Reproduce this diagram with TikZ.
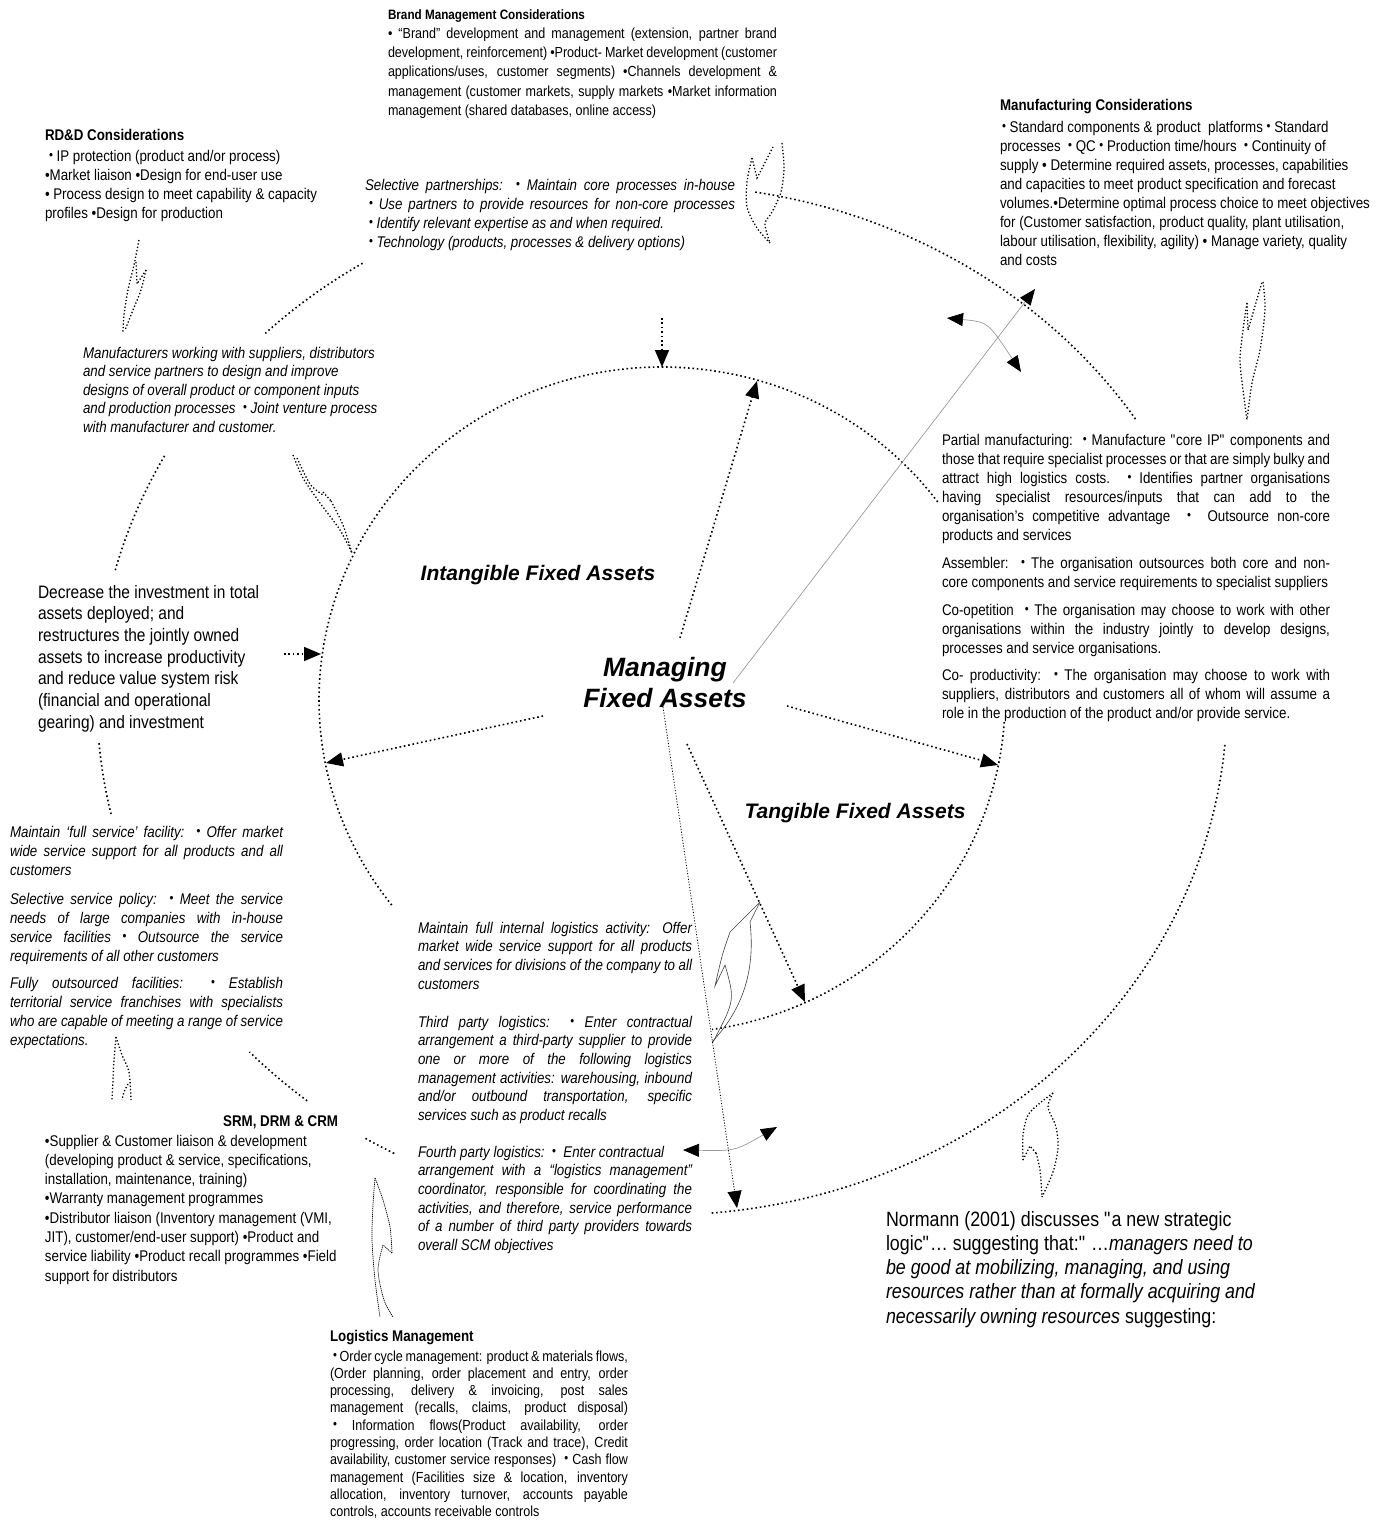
\documentclass[tikz,border=0pt]{standalone}
\usepackage{fontspec}
\setmainfont{Liberation Sans}[FakeStretch=0.86]
\newfontfamily\headfont{Liberation Sans}
\usetikzlibrary{arrows.meta}
% one line of a block: justified, flush left, flush right
\newcommand\jline[1]{\hbox to\hsize{#1}}
\newcommand\lline[1]{\hbox to\hsize{#1\hfil}}
\newcommand\rline[1]{\hbox to\hsize{\hfil#1}}
% small raised bullet
\newcommand\bu{{\upshape\raisebox{2pt}{\fontsize{13}{13}\selectfont •}}}
\newcommand\txtsize[1]{\fontsize{15.5}{#1}\selectfont}
\newcommand\qq{\textquotedbl}

\begin{document}
\begin{tikzpicture}[x=1pt,y=-1pt,
  every node/.style={inner sep=0pt, outer sep=0pt},
  txt/.style={anchor=base west},
  dotl/.style={line width=1.6pt, dash pattern=on 1.6pt off 2.8pt},
  curl/.style={line width=1.3pt, dash pattern=on 1.3pt off 2.1pt},
  finecurl/.style={line width=0.7pt, dash pattern=on 1.2pt off 0.8pt},
  fine/.style={line width=0.8pt, dash pattern=on 1.1pt off 1.7pt},
  thinl/.style={line width=0.6pt, draw=black!75},
  bigarrow/.style={-{Triangle[length=17pt,width=14pt]}},
  greydouble/.style={draw=black!40, line width=0.7pt,
    {Triangle[length=16pt,width=13pt,color=black]}-{Triangle[length=16pt,width=13pt,color=black]}},
  greyarrow/.style={draw=black!40, line width=0.7pt,
    -{Triangle[length=16pt,width=13pt,color=black]}},
  big/.style={font=\headfont\bfseries\itshape\fontsize{26.5}{31}\selectfont, anchor=base},
  mid/.style={font=\headfont\bfseries\itshape\fontsize{21}{25}\selectfont, anchor=base},
]
\useasboundingbox (0,0) rectangle (1384,1532);

% ---------- dotted rings ----------
% outer ring, visible pieces
\draw[dotl] (662,700) ++({565*cos(-80.5)},{515*sin(-80.5)}) arc[start angle=-80.5, end angle=-33, x radius=565, y radius=515];
\draw[dotl] (662,700) ++({565*cos(5)},{515*sin(5)}) arc[start angle=5, end angle=85, x radius=565, y radius=515];
\draw[dotl] (662,700) ++({565*cos(-122)},{515*sin(-122)}) arc[start angle=-122, end angle=-134.6, x radius=565, y radius=515];
\draw[dotl] (662,700) ++({565*cos(-151.7)},{515*sin(-151.7)}) arc[start angle=-151.7, end angle=-165.6, x radius=565, y radius=515];
\draw[dotl] (662,700) ++({565*cos(167.2)},{515*sin(167.2)}) arc[start angle=167.2, end angle=175.3, x radius=565, y radius=515];
\draw[dotl] (662,700) ++({565*cos(128.9)},{515*sin(128.9)}) arc[start angle=128.9, end angle=136.9, x radius=565, y radius=515];
\draw[dotl] (662,700) ++({565*cos(118.3)},{515*sin(118.3)}) arc[start angle=118.3, end angle=121.9, x radius=565, y radius=515];
% inner ring
\draw[dotl] (662,700) ++({343*cos(-36.5)},{333*sin(-36.5)}) arc[start angle=-36.5, end angle=-218, x radius=343, y radius=333];
\draw[dotl] (662,700) ++({343*cos(3.8)},{333*sin(3.8)}) arc[start angle=3.8, end angle=81.6, x radius=343, y radius=333];

% ---------- centre titles ----------
\node[big] (mfa1) at (665,676) {Managing};
\node[big] (mfa2) at (665,707) {Fixed Assets};
\node[mid] (ifa) at (538,580) {Intangible Fixed Assets};
\node[mid] (tfa) at (855,818) {Tangible Fixed Assets};

% ---------- text blocks ----------
\node[txt] (brand) at (388,19) {\vtop{\hsize=389pt\fontsize{14.6}{19.3}\selectfont
\lline{\fontsize{13.6}{19.3}\selectfont\bfseries Brand Management Considerations}
\jline{• “Brand” development and management (extension, partner brand}
\jline{development, reinforcement) •Product- Market development (customer}
\jline{applications/uses, customer segments) •Channels development \&}
\jline{management (customer markets, supply markets •Market information}
\lline{management (shared databases, online access)}}};

\node[txt] (manuf) at (1000,110) {\vtop{\hsize=370pt\txtsize{19}
\lline{\bfseries Manufacturing Considerations}
\vskip3pt
\lline{\hskip2pt\bu\ Standard components \& product\ \ platforms \bu\ Standard}
\lline{processes\ \ \bu\ QC \bu\ Production time/hours\ \ \bu\ Continuity of}
\lline{supply • Determine required assets, processes, capabilities}
\lline{and capacities to meet product specification and forecast}
\lline{volumes.•Determine optimal process choice to meet objectives}
\lline{for (Customer satisfaction, product quality, plant utilisation,}
\lline{labour utilisation, flexibility, agility) • Manage variety, quality}
\lline{and costs}}};

\node[txt] (rdd) at (45,140) {\vtop{\hsize=300pt\txtsize{19.3}
\lline{\bfseries RD\&D Considerations}
\vskip1.7pt
\lline{\hskip4pt\bu\ IP protection (product and/or process)}
\lline{•Market liaison •Design for end-user use}
\lline{• Process design to meet capability \& capacity}
\lline{profiles •Design for production}}};

\node[txt] (selective) at (365,190) {\vtop{\hsize=370pt\txtsize{19}\itshape
\jline{Selective partnerships:\ \ \bu\ Maintain core processes in-house}
\jline{\hskip4pt\bu\ Use partners to provide resources for non-core processes}
\lline{\hskip4pt\bu\ Identify relevant expertise as and when required.}
\lline{\hskip4pt\bu\ Technology (products, processes \& delivery options)}}};

\node[txt] (mfrs) at (83,358) {\vtop{\hsize=300pt\txtsize{18.5}\itshape
\lline{Manufacturers working with suppliers, distributors}
\lline{and service partners to design and improve}
\lline{designs of overall product or component inputs}
\lline{and production processes\ \ \bu\ Joint venture process}
\lline{with manufacturer and customer.}}};

\node[txt] (partial) at (942,445) {\vtop{\hsize=388pt\txtsize{19}
\jline{Partial manufacturing:\ \ \bu\ Manufacture \qq core IP\qq\ components and}
\jline{those that require specialist processes or that are simply bulky and}
\jline{attract high logistics costs. \bu\ Identifies partner organisations}
\jline{having specialist resources/inputs that can add to the}
\jline{organisation’s competitive advantage\ \ \bu\ \ Outsource non-core}
\lline{products and services}
\vskip9pt
\jline{Assembler:\ \ \bu\ The organisation outsources both core and non-}
\lline{core components and service requirements to specialist suppliers}
\vskip9pt
\jline{Co-opetition\ \ \bu\ The organisation may choose to work with other}
\jline{organisations within the industry jointly to develop designs,}
\lline{processes and service organisations.}
\vskip8pt
\jline{Co- productivity:\ \ \bu\ The organisation may choose to work with}
\jline{suppliers, distributors and customers all of whom will assume a}
\lline{role in the production of the product and/or provide service.}}};

\begin{scope}
\clip (30,575) rectangle (280,731);
\node[txt] (decrease) at (38,598) {\vtop{\hsize=240pt\fontsize{18}{21.7}\selectfont
\lline{Decrease the investment in total}
\lline{assets deployed; and}
\lline{restructures the jointly owned}
\lline{assets to increase productivity}
\lline{and reduce value system risk}
\lline{(financial and operational}
\lline{gearing) and investment}}};
\end{scope}

\node[txt] (service) at (10,837) {\vtop{\hsize=273pt\txtsize{19}\itshape
\jline{Maintain ‘full service’ facility:\ \ \bu\ Offer market}
\jline{wide service support for all products and all}
\lline{customers}
\vskip10pt
\jline{Selective service policy:\ \ \bu\ Meet the service}
\jline{needs of large companies with in-house}
\jline{service facilities \bu\ Outsource the service}
\lline{requirements of all other customers}
\vskip8pt
\jline{Fully outsourced facilities:\ \ \bu\ Establish}
\jline{territorial service franchises with specialists}
\jline{who are capable of meeting a range of service}
\lline{expectations.}}};

\node[txt] (srm) at (45,1126) {\vtop{\hsize=298pt\txtsize{19.3}
\rline{\bfseries SRM, DRM \& CRM\hskip5pt}
\vskip0.7pt
\lline{•Supplier \& Customer liaison \& development}
\lline{(developing product \& service, specifications,}
\lline{installation, maintenance, training)}
\lline{•Warranty management programmes}
\lline{•Distributor liaison (Inventory management (VMI,}
\lline{JIT), customer/end-user support) •Product and}
\lline{service liability •Product recall programmes •Field}
\lline{support for distributors}}};

\node[txt] (logmid) at (418,933) {\vtop{\hsize=274pt\txtsize{18.7}\itshape
\jline{Maintain full internal logistics activity: Offer}
\jline{market wide service support for all products}
\jline{and services for divisions of the company to all}
\lline{customers}
\vskip19.3pt
\jline{Third party logistics:\ \ \bu\ Enter contractual}
\jline{arrangement a third-party supplier to provide}
\jline{one or more of the following logistics}
\jline{management activities: warehousing, inbound}
\jline{and/or outbound transportation, specific}
\lline{services such as product recalls}
\vskip17.8pt
\lline{Fourth party logistics:\ \ \bu\ \ Enter contractual}
\jline{arrangement with a “logistics management”}
\jline{coordinator, responsible for coordinating the}
\jline{activities, and therefore, service performance}
\jline{of a number of third party providers towards}
\lline{overall SCM objectives}}};

\node[txt] (logman) at (330,1341) {\vtop{\hsize=298pt\fontsize{14.6}{17.3}\selectfont
\lline{\fontsize{15.5}{17.3}\selectfont\bfseries Logistics Management}
\vskip2.7pt
\jline{\hskip3pt\bu\ Order cycle management: product \& materials flows,}
\jline{(Order planning, order placement and entry, order}
\jline{processing, delivery \& invoicing, post sales}
\jline{management (recalls, claims, product disposal)}
\jline{\hskip3pt\bu\ Information flows(Product availability, order}
\jline{progressing, order location (Track and trace), Credit}
\jline{availability, customer service responses)\ \ \bu\ Cash flow}
\jline{management (Facilities size \& location, inventory}
\jline{allocation, inventory turnover, accounts payable}
\lline{controls, accounts receivable controls}}};

\node[txt] (normann) at (886,1226) {\vtop{\hsize=400pt\fontsize{20.75}{24.3}\selectfont
\lline{Normann (2001) discusses \qq a new strategic}
\lline{logic\qq… suggesting that:\qq\ …\textit{managers need to}}
\lline{\textit{be good at mobilizing, managing, and using}}
\lline{\textit{resources rather than at formally acquiring and}}
\lline{\textit{necessarily owning resources} suggesting:}}};

% ---------- connector end points ----------
\coordinate (top0) at (662,318);  \coordinate (top1) at (662,367);
\coordinate (up0) at (680,638);   \coordinate (up1) at (757,381);
\coordinate (lf0) at (284,654);   \coordinate (lf1) at (321,654);
\coordinate (dl0) at (543,716);   \coordinate (dl1) at (326,763);
\coordinate (dr0) at (787,706);   \coordinate (dr1) at (998,765);
\coordinate (dd0) at (687,744);   \coordinate (dd1) at (805,1002);
\coordinate (th0) at (663,707);   \coordinate (th1) at (737,1208);
\coordinate (gr0) at (733,683);   \coordinate (gr1) at (1035,289);
\coordinate (ga0) at (947,318);   \coordinate (ga1) at (1021,372);
\coordinate (gb0) at (683,1150);  \coordinate (gb1) at (777,1127);

% ---------- connectors ----------
\draw[dotl, bigarrow] (top0) -- (top1);
\draw[dotl, bigarrow] (up0) -- (up1);
\draw[dotl, bigarrow] (lf0) -- (lf1);
\draw[dotl, bigarrow] (dl0) -- (dl1);
\draw[dotl, bigarrow] (dr0) -- (dr1);
\draw[dotl, bigarrow] (dd0) -- (dd1);
\draw[fine, bigarrow] (th0) -- (th1);
\draw[greyarrow] (gr0) -- (gr1);
\draw[greydouble] (ga0) .. controls (988,322) .. (ga1);
\draw[greydouble] (gb0) .. controls (735,1151) .. (gb1);

% ---------- curved block arrows (outlines) ----------
% RD&D
\draw[curl] plot[smooth] coordinates {(139,240) (134,265) (128,290) (124,315) (123,332)};
\draw[curl] (136,262) -- (137,284) -- (146,270);
\draw[curl] plot[smooth] coordinates {(146,270) (141,290) (133,310) (125,330)};
% brand
\draw[curl] plot[smooth] coordinates {(752,158) (747,182) (747,207) (757,228) (770,243)};
\draw[curl] (752,158) -- (757,178) -- (773,147);
\draw[curl] plot[smooth] coordinates {(782,143) (784,168) (781,192) (772,212) (765,224) (770,243)};
% manufacturing
\draw[curl] plot[smooth] coordinates {(1247,303) (1243,330) (1240,360) (1243,390) (1247,420)};
\draw[curl] (1247,303) -- (1248,330) -- (1262,282);
\draw[curl] plot[smooth] coordinates {(1263,282) (1265,310) (1260,350) (1252,383) (1247,420)};
% manufacturers
\draw[curl] plot[smooth] coordinates {(293,455) (303,478) (320,503) (340,530) (352,553)};
\draw[curl] plot[smooth] coordinates {(297,458) (310,484) (323,495)};
\draw[curl] (323,492) -- (331,501);
\draw[curl] plot[smooth] coordinates {(331,501) (343,525) (352,553)};
% Normann
\draw[curl] plot[smooth] coordinates {(1053,1093) (1040,1103) (1028,1115) (1023,1135) (1023,1160)};
\draw[curl] (1023,1160) -- (1030,1146) -- (1036,1153);
\draw[curl] plot[smooth] coordinates {(1036,1153) (1040,1170) (1042,1197)};
\draw[curl] plot[smooth] coordinates {(1053,1093) (1048,1107) (1056,1127) (1058,1148) (1053,1172) (1042,1197)};
% service
\draw[curl] plot[smooth] coordinates {(116,1037) (114,1060) (113,1080) (112,1100)};
\draw[curl] plot[smooth] coordinates {(116,1037) (122,1055) (129,1072) (131,1100)};
\draw[curl] plot[smooth] coordinates {(128,1084) (124,1092) (122,1100)};
% logistics management
\draw[finecurl] plot[smooth] coordinates {(375,1178) (373,1205) (372,1240) (375,1280) (380,1317)};
\draw[finecurl] plot[smooth] coordinates {(375,1178) (383,1200) (390,1227) (392,1253)};
\draw[finecurl] (392,1253) -- (383,1245);
\draw[finecurl] plot[smooth] coordinates {(383,1245) (378,1270) (384,1300) (393,1317)};
% logistics activities
\draw[thinl] (760,902) -- (730,932) .. controls (722,955) .. (715,986) -- (725,965) .. controls (735,1000) .. (713,1042);
\draw[thinl] (760,902) -- (750,922) .. controls (756,975) and (740,1012) .. (712,1042);
\end{tikzpicture}
\end{document}
